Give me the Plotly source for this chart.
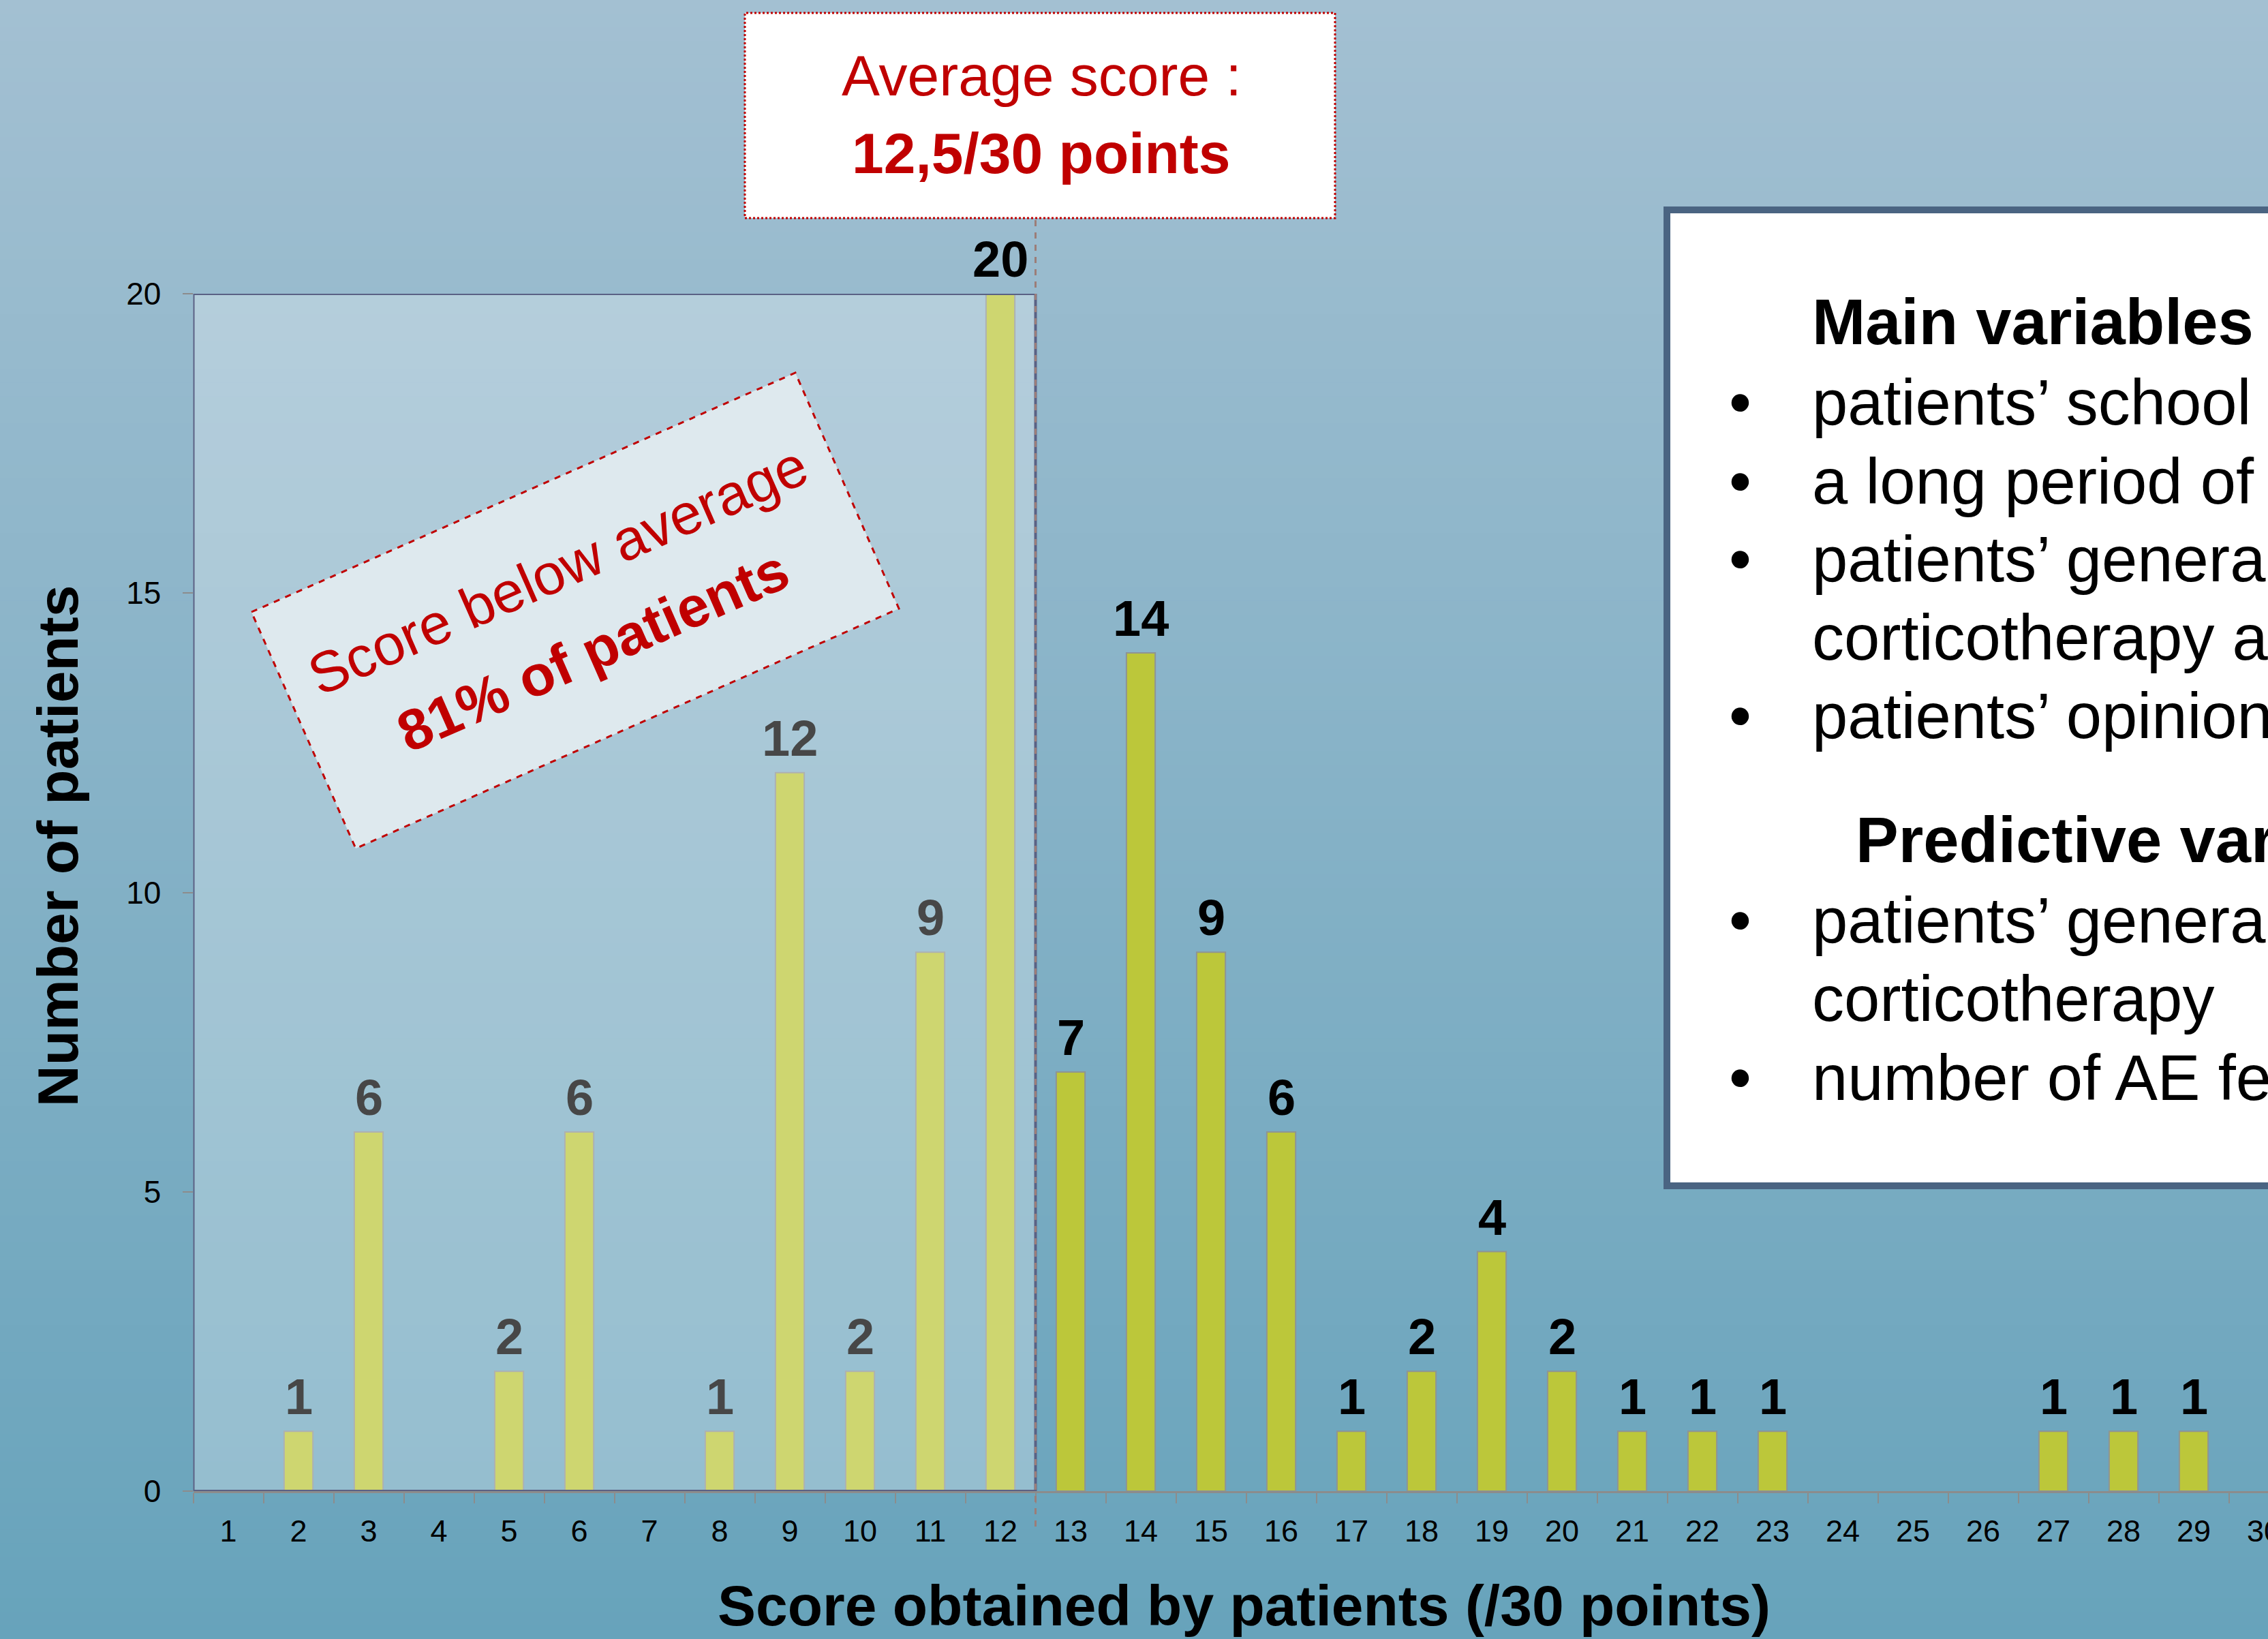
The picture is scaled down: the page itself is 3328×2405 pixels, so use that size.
import plotly.graph_objects as go

# ---- data ----
scores = [str(i) for i in range(1, 31)]
patients = [0, 1, 6, 0, 2, 6, 0, 1, 12, 2, 9, 20, 7, 14, 9, 6, 1, 2, 4, 2, 1, 1, 1, 0, 0, 0, 1, 1, 1, 0]
y_ticks = [0, 5, 10, 15, 20]
average_score = 12.5

box_title = "Average score :"
box_value = "12,5/30 points"
below_line1 = "Score below average"
below_line2 = "81% of patients"

side_heading1 = "Main variables associated with the score"
side_bullets1 = [
    ["patients’ school level"],
    ["a long period of corticotherapy"],
    ["patients’ general knowledge about", "corticotherapy and its adverse effects"],
    ["patients’ opinion on corticotherapy"],
]
side_heading2 = "Predictive variables"
side_bullets2 = [
    ["patients’ general knowledge about", "corticotherapy"],
    ["number of AE felt"],
]

# ---- geometry (pixels of the 3328 x 2405 page) ----
W, H = 3328, 2405
FONT = "Liberation Sans, Arial, sans-serif"
RED = "#C00000"


def px(x):
    return x / W


def py(y):
    return 1 - y / H


fig = go.Figure()

fig.add_trace(go.Bar(
    x=scores, y=patients, width=0.41,
    marker=dict(color="#BCC73A",
                line=dict(color="#8E9494", width=[2 if v > 0 else 0 for v in patients])),
    hoverinfo="skip",
))

shapes = []
# gradient background bands
top_c = (163, 192, 210)
bot_c = (103, 163, 187)
n = 120
for i in range(n):
    t = (i + 0.5) / n
    c = tuple(int(round(top_c[k] + (bot_c[k] - top_c[k]) * t)) for k in range(3))
    y_hi = 1 - i / n if i > 0 else 1.05
    y_lo = 1 - (i + 1) / n - 0.001 if i < n - 1 else -0.05
    shapes.append(dict(type="rect", xref="paper", yref="paper",
                       x0=-0.1, x1=1.1, y0=y_lo, y1=y_hi,
                       fillcolor="rgb(%d,%d,%d)" % c, line=dict(width=0), layer="below"))

# shaded "below average" region
shapes.append(dict(type="rect", xref="x", yref="y", x0=-0.5, x1=average_score - 1,
                   y0=0, y1=20, fillcolor="rgba(255,255,255,0.28)",
                   line=dict(color="#5A6184", width=4), layer="above"))
# dashed average line
shapes.append(dict(type="line", xref="x", yref="paper", x0=average_score - 1, x1=average_score - 1,
                   y0=py(2240), y1=py(320), line=dict(color="#9C7D78", width=3, dash="dash"),
                   layer="above"))
# average score box
shapes.append(dict(type="rect", xref="paper", yref="paper", x0=px(1093), x1=px(1959),
                   y0=py(320), y1=py(19), fillcolor="white",
                   line=dict(color=RED, width=3, dash="dot"), layer="above"))
# rotated "below average" box
corners = [(369, 898), (1167, 547), (1319, 893), (522, 1245)]
path = "M " + " L ".join("%f,%f" % (px(x), py(y)) for x, y in corners) + " Z"
shapes.append(dict(type="path", xref="paper", yref="paper", path=path,
                   fillcolor="#DEE9EE", line=dict(color=RED, width=3, dash="dash"), layer="above"))
# side text box
shapes.append(dict(type="rect", xref="paper", yref="paper", x0=px(2446), x1=px(3400),
                   y0=py(1740), y1=py(308), fillcolor="white",
                   line=dict(color="#4A6482", width=10), layer="above"))


def note(x, y, text, size, color="black", xa="center", ya="middle", **kw):
    return dict(x=x, y=y, xref="paper", yref="paper", text=text, showarrow=False,
                xanchor=xa, yanchor=ya, font=dict(family=FONT, size=size, color=color), **kw)


annotations = []
# data labels (grey where the shaded box lies over them)
for i, (s, v) in enumerate(zip(scores, patients)):
    if v > 0:
        col = "#474747" if (int(s) <= average_score and v < 20) else "black"
        annotations.append(dict(x=i, y=v, xref="x", yref="y", text="<b>%d</b>" % v,
                                showarrow=False, xanchor="center", yanchor="bottom", yshift=7,
                                font=dict(family=FONT, size=74, color=col)))

# axis titles
annotations.append(note(px(1825), py(2356), "<b>Score obtained by patients (/30 points)</b>", 84))
annotations.append(note(px(85), py(1242), "<b>Number of patients</b>", 84, textangle=-90))

# average box text
annotations.append(note(px(1528), py(111), box_title, 84, RED))
annotations.append(note(px(1528), py(225), "<b>%s</b>" % box_value, 84, RED))

# rotated box text
annotations.append(note(px(818), py(837), below_line1, 84, RED, textangle=-23.7))
annotations.append(note(px(870), py(955), "<b>%s</b>" % below_line2, 84, RED, textangle=-23.7))

# side box text
line_y = [478, 596, 712, 827, 941, 1056, 1238, 1356, 1471, 1587]
rows = []
rows.append(("head", side_heading1, 2657))
for b in side_bullets1:
    for j, t in enumerate(b):
        rows.append(("bullet" if j == 0 else "cont", t, 2657))
rows.append(("head", side_heading2, 2721))
for b in side_bullets2:
    for j, t in enumerate(b):
        rows.append(("bullet" if j == 0 else "cont", t, 2657))
for (kind, t, x0), yy in zip(rows, line_y):
    yc = yy - 6
    if kind == "head":
        annotations.append(note(px(x0), py(yc), "<b>%s</b>" % t, 94, xa="left"))
    else:
        if kind == "bullet":
            annotations.append(note(px(2553), py(yc), "•", 94))
        annotations.append(note(px(x0), py(yc), t, 94, xa="left"))

fig.update_layout(
    width=W, height=H,
    autosize=False,
    margin=dict(l=0, r=0, t=0, b=0, pad=0, autoexpand=False),
    paper_bgcolor="rgb(130,176,197)",
    plot_bgcolor="rgba(0,0,0,0)",
    showlegend=False,
    shapes=shapes,
    annotations=annotations,
    xaxis=dict(
        domain=[283.5 / W, 1],
        type="category",
        automargin=False,
        range=[-0.5, (W - 283.5) / 103.0 - 0.5],
        tickson="boundaries",
        ticks="outside", ticklen=15, tickwidth=2, tickcolor="#8C8C8C",
        showline=True, linecolor="#8C8C8C", linewidth=3,
        showgrid=False, zeroline=False,
        tickfont=dict(family=FONT, size=45, color="black"),
        ticklabelstandoff=17,
        fixedrange=True,
    ),
    yaxis=dict(
        domain=[1 - 2188 / H, 1 - 431 / H],
        automargin=False,
        range=[0, 20],
        tickvals=y_ticks,
        ticks="outside", ticklen=15, tickwidth=2, tickcolor="#8C8C8C",
        showline=False, showgrid=False, zeroline=False,
        tickfont=dict(family=FONT, size=46, color="black"),
        ticklabelstandoff=22,
        fixedrange=True,
    ),
)

fig.write_html("out.html",
               config={"displayModeBar": False, "responsive": False},
               post_script="document.body.style.margin='0px';document.body.style.overflow='hidden';")
